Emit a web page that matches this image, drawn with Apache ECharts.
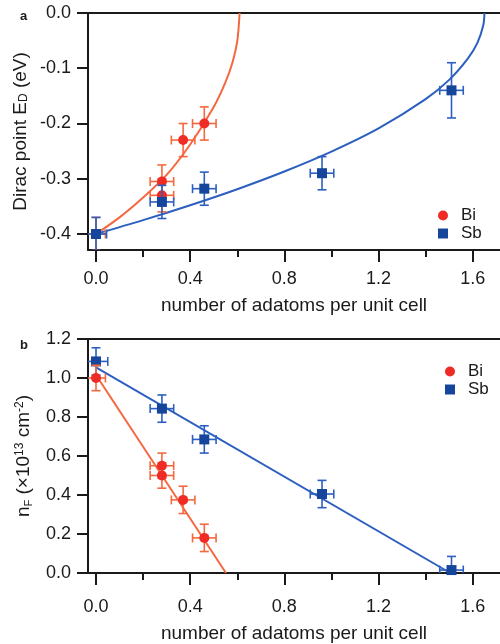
<!DOCTYPE html>
<html>
<head>
<meta charset="utf-8">
<script src="https://cdn.jsdelivr.net/npm/echarts@6/dist/echarts.min.js"></script>
<style>
  html, body { margin: 0; padding: 0; background: #fff; }
  #chart { width: 500px; height: 644px; }
</style>
</head>
<body>
<div id="chart"></div>
<script>
// panel a: Dirac point vs coverage
const biNa = [0, 0.28, 0.28, 0.37, 0.46]
const biED = [-0.40, -0.305, -0.33, -0.23, -0.20]
const biNaErr = [0.04, 0.05, 0.05, 0.05, 0.05]
const biEDErr = [0.03, 0.03, 0.03, 0.03, 0.03]
const sbNa = [0, 0.28, 0.46, 0.96, 1.51]
const sbED = [-0.40, -0.342, -0.318, -0.29, -0.14]
const sbNaErr = [0.045, 0.05, 0.05, 0.05, 0.05]
const sbEDErr = [0.03, 0.03, 0.03, 0.03, 0.05]
const biFitNa = [0, 0.1, 0.2, 0.3, 0.4, 0.5, 0.55, 0.58, 0.6, 0.61]
const biFitED = [-0.4, -0.37, -0.334, -0.293, -0.238, -0.17, -0.125, -0.089, -0.051, 0]
const sbFitNa = [0, 0.2, 0.4, 0.6, 0.8, 1.0, 1.2, 1.4, 1.5, 1.58, 1.62, 1.645, 1.65]
const sbFitED = [-0.4, -0.375, -0.348, -0.319, -0.287, -0.251, -0.209, -0.156, -0.121, -0.082, -0.054, -0.022, 0]

// panel b: carrier density vs coverage
const biNb = [0, 0.28, 0.28, 0.37, 0.46]
const biNF = [1.0, 0.55, 0.50, 0.375, 0.18]
const biNbErr = [0.04, 0.05, 0.05, 0.05, 0.05]
const biNFErr = [0.065, 0.065, 0.065, 0.07, 0.07]
const sbNb = [0, 0.28, 0.46, 0.96, 1.51]
const sbNF = [1.085, 0.843, 0.685, 0.405, 0.015]
const sbNbErr = [0.05, 0.05, 0.05, 0.05, 0.05]
const sbNFErr = [0.07, 0.07, 0.07, 0.07, 0.07]
const biLineNb = [0, 0.552]
const biLineNF = [1.015, 0]
const sbLineNb = [0, 1.505]
const sbLineNF = [1.055, 0]

// ticks
const xMajor = [0, 0.4, 0.8, 1.2, 1.6]
const xMinor = [0.2, 0.6, 1.0, 1.4]
const yTicksA = [-0.4, -0.3, -0.2, -0.1, 0]

const RED = '#ee2b25'
const RED_LINE = '#f5683f'
const BLUE = '#16469c'
const BLUE_LINE = '#2c5fbf'
const INK = '#1a1a1a'
const FONT = 'Liberation Sans'

const zip = (a, b) => a.map((v, i) => [v, b[i]])
const zip4 = (a, b, c, d) => a.map((v, i) => [v, b[i], c[i], d[i]])

function errBars (color) {
  return function (params, api) {
    const x = api.value(0)
    const y = api.value(1)
    const ex = api.value(2)
    const ey = api.value(3)
    const c = api.coord([x, y])
    const l = api.coord([x - ex, y])[0]
    const r = api.coord([x + ex, y])[0]
    const t = api.coord([x, y + ey])[1]
    const b = api.coord([x, y - ey])[1]
    const cap = 4.5
    const style = { stroke: color, lineWidth: 1.6 }
    const seg = (x1, y1, x2, y2) => ({ type: 'line', shape: { x1, y1, x2, y2 }, style })
    return {
      type: 'group',
      children: [
        seg(l, c[1], r, c[1]),
        seg(l, c[1] - cap, l, c[1] + cap),
        seg(r, c[1] - cap, r, c[1] + cap),
        seg(c[0], t, c[0], b),
        seg(c[0] - cap, t, c[0] + cap, t),
        seg(c[0] - cap, b, c[0] + cap, b)
      ]
    }
  }
}

function xAxes (gridIndex, nameGap, labelMargin) {
  const base = { gridIndex, type: 'value', min: -0.034, max: 1.716, splitLine: { show: false } }
  return [
    {
      ...base,
      position: 'bottom',
      axisLine: { show: true, onZero: false, lineStyle: { color: INK, width: 2 } },
      axisTick: { show: true, customValues: xMajor, length: 12, lineStyle: { color: INK, width: 2 } },
      axisLabel: {
        customValues: xMajor,
        margin: labelMargin,
        formatter: v => v.toFixed(1),
        fontFamily: FONT,
        fontSize: 18,
        color: INK
      },
      name: 'number of adatoms per unit cell',
      nameLocation: 'middle',
      nameGap,
      nameMoveOverlap: false,
      nameTextStyle: { fontFamily: FONT, fontSize: 19, color: INK }
    },
    {
      ...base,
      position: 'bottom',
      axisLine: { show: false, onZero: false },
      axisTick: { show: true, customValues: xMinor, length: 7, lineStyle: { color: INK, width: 2 } },
      axisLabel: { show: false }
    },
    {
      ...base,
      position: 'top',
      axisLine: { show: true, onZero: false, lineStyle: { color: INK, width: 2 } },
      axisTick: { show: false },
      axisLabel: { show: false }
    }
  ]
}

const chart = echarts.init(document.getElementById('chart'), null, { renderer: 'canvas' })

chart.setOption({
  backgroundColor: '#fff',
  animation: false,
  title: [
    { text: 'a', left: 15, top: 5, textStyle: { fontFamily: FONT, fontSize: 13, fontWeight: 'bold', color: INK } },
    { text: 'b', left: 15, top: 334, textStyle: { fontFamily: FONT, fontSize: 13, fontWeight: 'bold', color: INK } }
  ],
  legend: [
    {
      orient: 'vertical',
      left: 433,
      top: 202,
      itemWidth: 10,
      itemHeight: 10,
      itemGap: 1,
      data: [{ name: 'Bi', icon: 'circle' }, { name: 'Sb', icon: 'rect' }],
      textStyle: { fontFamily: FONT, fontSize: 17, color: INK, padding: [0, 0, 0, 8] }
    },
    {
      orient: 'vertical',
      left: 440,
      top: 358,
      itemWidth: 10,
      itemHeight: 10,
      itemGap: 1,
      data: [{ name: 'Bi', icon: 'circle' }, { name: 'Sb', icon: 'rect' }],
      textStyle: { fontFamily: FONT, fontSize: 17, color: INK, padding: [0, 0, 0, 8] }
    }
  ],
  grid: [
    { left: 88, top: 13, width: 412, height: 237 },
    { left: 88, top: 339, width: 412, height: 238 }
  ],
  xAxis: [...xAxes(0, 46, 20), ...xAxes(1, 51, 25)],
  yAxis: [
    {
      gridIndex: 0,
      type: 'value',
      min: -0.429,
      max: 0,
      splitLine: { show: false },
      axisLine: { show: true, onZero: false, lineStyle: { color: INK, width: 2 } },
      axisTick: { show: true, customValues: yTicksA, length: 11, lineStyle: { color: INK, width: 2 } },
      axisLabel: {
        customValues: yTicksA,
        margin: 17,
        formatter: v => v.toFixed(1),
        fontFamily: FONT,
        fontSize: 18,
        color: INK
      },
      name: 'Dirac point E{sub|D} (eV)',
      nameLocation: 'middle',
      nameGap: 58,
      nameMoveOverlap: false,
      nameTextStyle: {
        fontFamily: FONT,
        fontSize: 19,
        color: INK,
        rich: { sub: { fontFamily: FONT, fontSize: 12, color: INK, verticalAlign: 'bottom', padding: [6, 0, 0, 0] } }
      }
    },
    {
      gridIndex: 1,
      type: 'value',
      min: 0,
      max: 1.2,
      interval: 0.2,
      splitLine: { show: false },
      axisLine: { show: true, onZero: false, lineStyle: { color: INK, width: 2 } },
      axisTick: { show: true, length: 11, lineStyle: { color: INK, width: 2 } },
      axisLabel: {
        margin: 17,
        formatter: v => v.toFixed(1),
        fontFamily: FONT,
        fontSize: 18,
        color: INK
      },
      name: 'n{sub|F} (×10{sup|13} cm{sup|-2})',
      nameLocation: 'middle',
      nameGap: 54,
      nameMoveOverlap: false,
      nameTextStyle: {
        fontFamily: FONT,
        fontSize: 19,
        color: INK,
        rich: {
          sub: { fontFamily: FONT, fontSize: 11, color: INK, verticalAlign: 'bottom', padding: [6, 0, 0, 0] },
          sup: { fontFamily: FONT, fontSize: 12, color: INK, verticalAlign: 'top', padding: [0, 0, 8, 0] }
        }
      }
    }
  ],
  series: [
    // panel a
    { name: 'Bi fit', type: 'line', xAxisIndex: 0, yAxisIndex: 0, data: zip(biFitNa, biFitED), smooth: 0.3, showSymbol: false, lineStyle: { color: RED_LINE, width: 2 }, clip: true, z: 1 },
    { name: 'Sb fit', type: 'line', xAxisIndex: 0, yAxisIndex: 0, data: zip(sbFitNa, sbFitED), smooth: 0.3, showSymbol: false, lineStyle: { color: BLUE_LINE, width: 2 }, clip: true, z: 1 },
    { name: 'Bi err', type: 'custom', xAxisIndex: 0, yAxisIndex: 0, renderItem: errBars(RED_LINE), encode: { x: 0, y: 1 }, data: zip4(biNa, biED, biNaErr, biEDErr), clip: true, z: 2 },
    { name: 'Bi', type: 'scatter', xAxisIndex: 0, yAxisIndex: 0, symbol: 'circle', symbolSize: 10, itemStyle: { color: RED, opacity: 1 }, data: zip(biNa, biED), z: 3 },
    { name: 'Sb err', type: 'custom', xAxisIndex: 0, yAxisIndex: 0, renderItem: errBars(BLUE_LINE), encode: { x: 0, y: 1 }, data: zip4(sbNa, sbED, sbNaErr, sbEDErr), clip: true, z: 4 },
    { name: 'Sb', type: 'scatter', xAxisIndex: 0, yAxisIndex: 0, symbol: 'rect', symbolSize: 10, itemStyle: { color: BLUE, opacity: 1 }, data: zip(sbNa, sbED), z: 5 },
    // panel b
    { name: 'Bi line', type: 'line', xAxisIndex: 3, yAxisIndex: 1, data: zip(biLineNb, biLineNF), showSymbol: false, lineStyle: { color: RED_LINE, width: 2 }, clip: true, z: 1 },
    { name: 'Sb line', type: 'line', xAxisIndex: 3, yAxisIndex: 1, data: zip(sbLineNb, sbLineNF), showSymbol: false, lineStyle: { color: BLUE_LINE, width: 2 }, clip: true, z: 1 },
    { name: 'Sb err b', type: 'custom', xAxisIndex: 3, yAxisIndex: 1, renderItem: errBars(BLUE_LINE), encode: { x: 0, y: 1 }, data: zip4(sbNb, sbNF, sbNbErr, sbNFErr), clip: true, z: 2 },
    { name: 'Sb', type: 'scatter', xAxisIndex: 3, yAxisIndex: 1, symbol: 'rect', symbolSize: 10, itemStyle: { color: BLUE, opacity: 1 }, data: zip(sbNb, sbNF), z: 3 },
    { name: 'Bi err b', type: 'custom', xAxisIndex: 3, yAxisIndex: 1, renderItem: errBars(RED_LINE), encode: { x: 0, y: 1 }, data: zip4(biNb, biNF, biNbErr, biNFErr), clip: true, z: 4 },
    { name: 'Bi', type: 'scatter', xAxisIndex: 3, yAxisIndex: 1, symbol: 'circle', symbolSize: 10, itemStyle: { color: RED, opacity: 1 }, data: zip(biNb, biNF), z: 5 }
  ]
})
</script>
</body>
</html>
